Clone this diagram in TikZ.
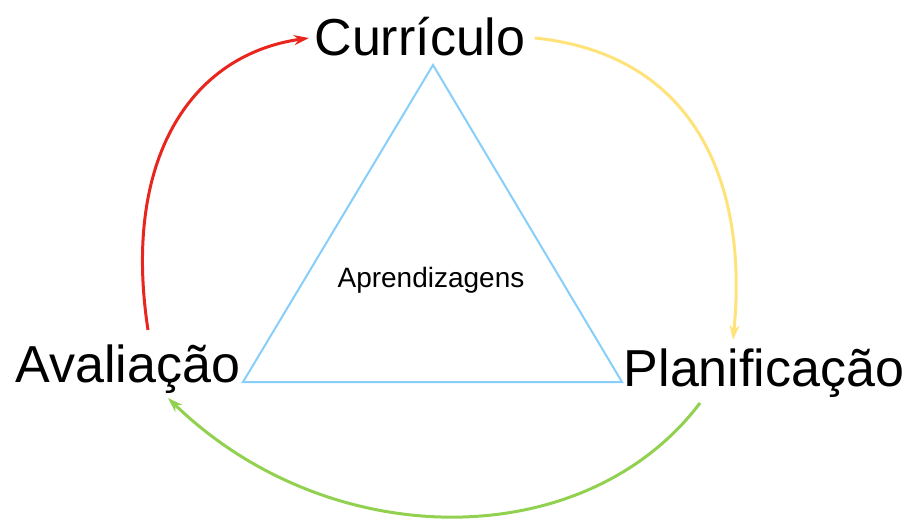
\documentclass[tikz,border=0pt]{standalone}
\usepackage{fontspec}
\setmainfont{Liberation Sans}
\usetikzlibrary{arrows.meta}
\definecolor{tri}{RGB}{135,206,250}
\definecolor{redc}{RGB}{232,38,30}
\definecolor{yelc}{RGB}{255,226,122}
\definecolor{grnc}{RGB}{146,208,80}
\tikzset{
  big/.style={font=\fontsize{52}{56}\selectfont, inner sep=0pt, anchor=base},
  small/.style={font=\fontsize{28}{32}\selectfont, inner sep=0pt, anchor=base},
  cyc/.style={line width=3pt, -{Stealth[length=15pt,width=10pt]}},
}
\begin{document}
\begin{tikzpicture}[x=1pt,y=-1pt]
\useasboundingbox (0,0) rectangle (907,520);
\node[big] (cur) at (420,55) {Currículo};
\node[big] (ava) at (128,382) {Avaliação};
\node[big] (pla) at (764,386) {Planificação};
\node[small] (apr) at (431,287) {Aprendizagens};
\coordinate (tA) at (433,65);
\coordinate (tB) at (243,382);
\coordinate (tC) at (622,382);
\draw[tri, line width=2pt, line join=miter] (tA) -- (tB) -- (tC) -- cycle;
\coordinate (r0) at (148,330);
\coordinate (r1) at (309,38);
\coordinate (y0) at (535,38);
\coordinate (y1) at (733,340);
\coordinate (g0) at (700,403);
\coordinate (g1) at (168,398);
\draw[cyc, redc] (r0) .. controls (122,160) and (190,55) .. (r1);
\draw[cyc, yelc] (y0) .. controls (700,55) and (748,190) .. (y1);
\draw[cyc, grnc] (g0) .. controls (585,555) and (330,555) .. (g1);
\end{tikzpicture}
\end{document}
